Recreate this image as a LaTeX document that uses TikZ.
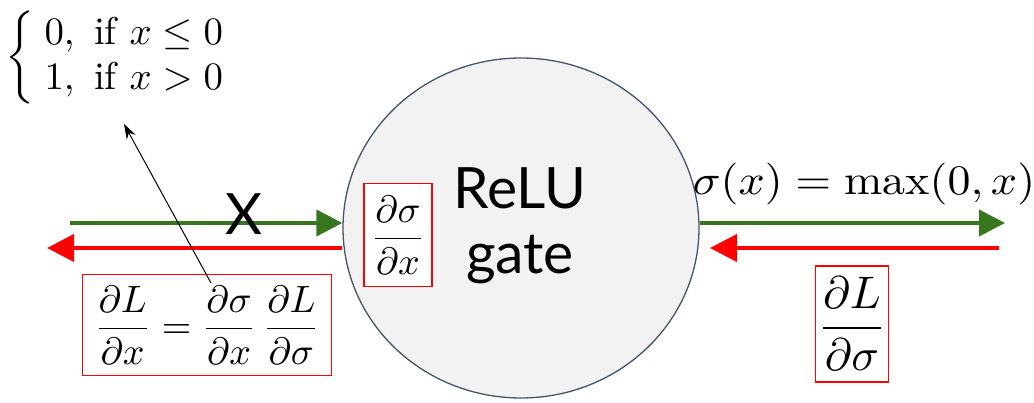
\documentclass[tikz,border=0pt]{standalone}
\usepackage{amsmath,amssymb}
\usepackage{fontspec}
\usetikzlibrary{arrows.meta,shapes.geometric}
\newfontfamily\gatefont{Lato}
\definecolor{fwdgreen}{RGB}{56,118,29}
\definecolor{gateedge}{RGB}{68,84,106}
\definecolor{gatefill}{RGB}{242,242,242}

\begin{document}
\begin{tikzpicture}[x=1pt,y=-1pt,
  fwd/.style={line width=4pt,fwdgreen,-{Triangle[length=26pt,width=26pt]}},
  bwd/.style={line width=4pt,red,-{Triangle[length=27pt,width=27pt]}},
  redbox/.style={draw=red,line width=1.5pt,fill=white,inner sep=3pt,scale=3.8},
  bigmath/.style={inner sep=0pt,scale=4}]
\useasboundingbox (0,0) rectangle (1034,403);

\node[ellipse,draw=gateedge,line width=1.3pt,fill=gatefill,minimum width=356pt,minimum height=340pt,inner sep=0pt] (gate) at (521,228) {};
\node[align=center,inner sep=0pt,font=\gatefont\fontsize{57}{65}\selectfont] (gatetext) at (520,226) {ReLU\\gate};

\coordinate (inL) at (70,223);
\coordinate (backL) at (47,248);
\coordinate (outR) at (1005,223);
\coordinate (backR) at (999,248);
\coordinate (backRtip) at (710,248);

\draw[fwd] (inL) -- (inL -| gate.west);
\draw[bwd] (gate.west |- backL) -- (backL);
\draw[fwd] (gate.east |- outR) -- (outR);
\draw[bwd] (backR) -- (backRtip);

\node[inner sep=0pt,font=\gatefont\fontsize{57}{60}\selectfont] (xlab) at (244,214) {X};
\node[bigmath,xscale=1.15,yscale=1.05] (fwdlab) at (864,184) {$\sigma(x) = \max(0,x)$};

\node[redbox,inner xsep=1.8pt,inner ysep=3.3pt] (dsdx) at (398,235) {$\dfrac{\partial\sigma}{\partial x}$};
\node[redbox] (dLdx) at (207,325) {$\dfrac{\partial L}{\partial x} = \dfrac{\partial\sigma}{\partial x}\,\dfrac{\partial L}{\partial\sigma}$};
\node[redbox,scale=1.2,inner xsep=0.5pt,inner ysep=2.4pt] (dLds) at (852,324) {$\dfrac{\partial L}{\partial\sigma}$};

\node[bigmath,scale=0.97,anchor=west] (deriv) at (5,58) {$\renewcommand\arraystretch{0.96}\left\{\begin{array}{@{\hspace{2.5pt}}l@{}}0,\ \mathrm{if}\ x\leq 0\\ 1,\ \mathrm{if}\ x>0\end{array}\right.$};

\coordinate (ptr) at (211,283);
\coordinate (ptrtip) at (124,124);
\draw[line width=1pt,-{Stealth[length=15pt,width=10pt]}] (ptr) -- (ptrtip);
\end{tikzpicture}
\end{document}
